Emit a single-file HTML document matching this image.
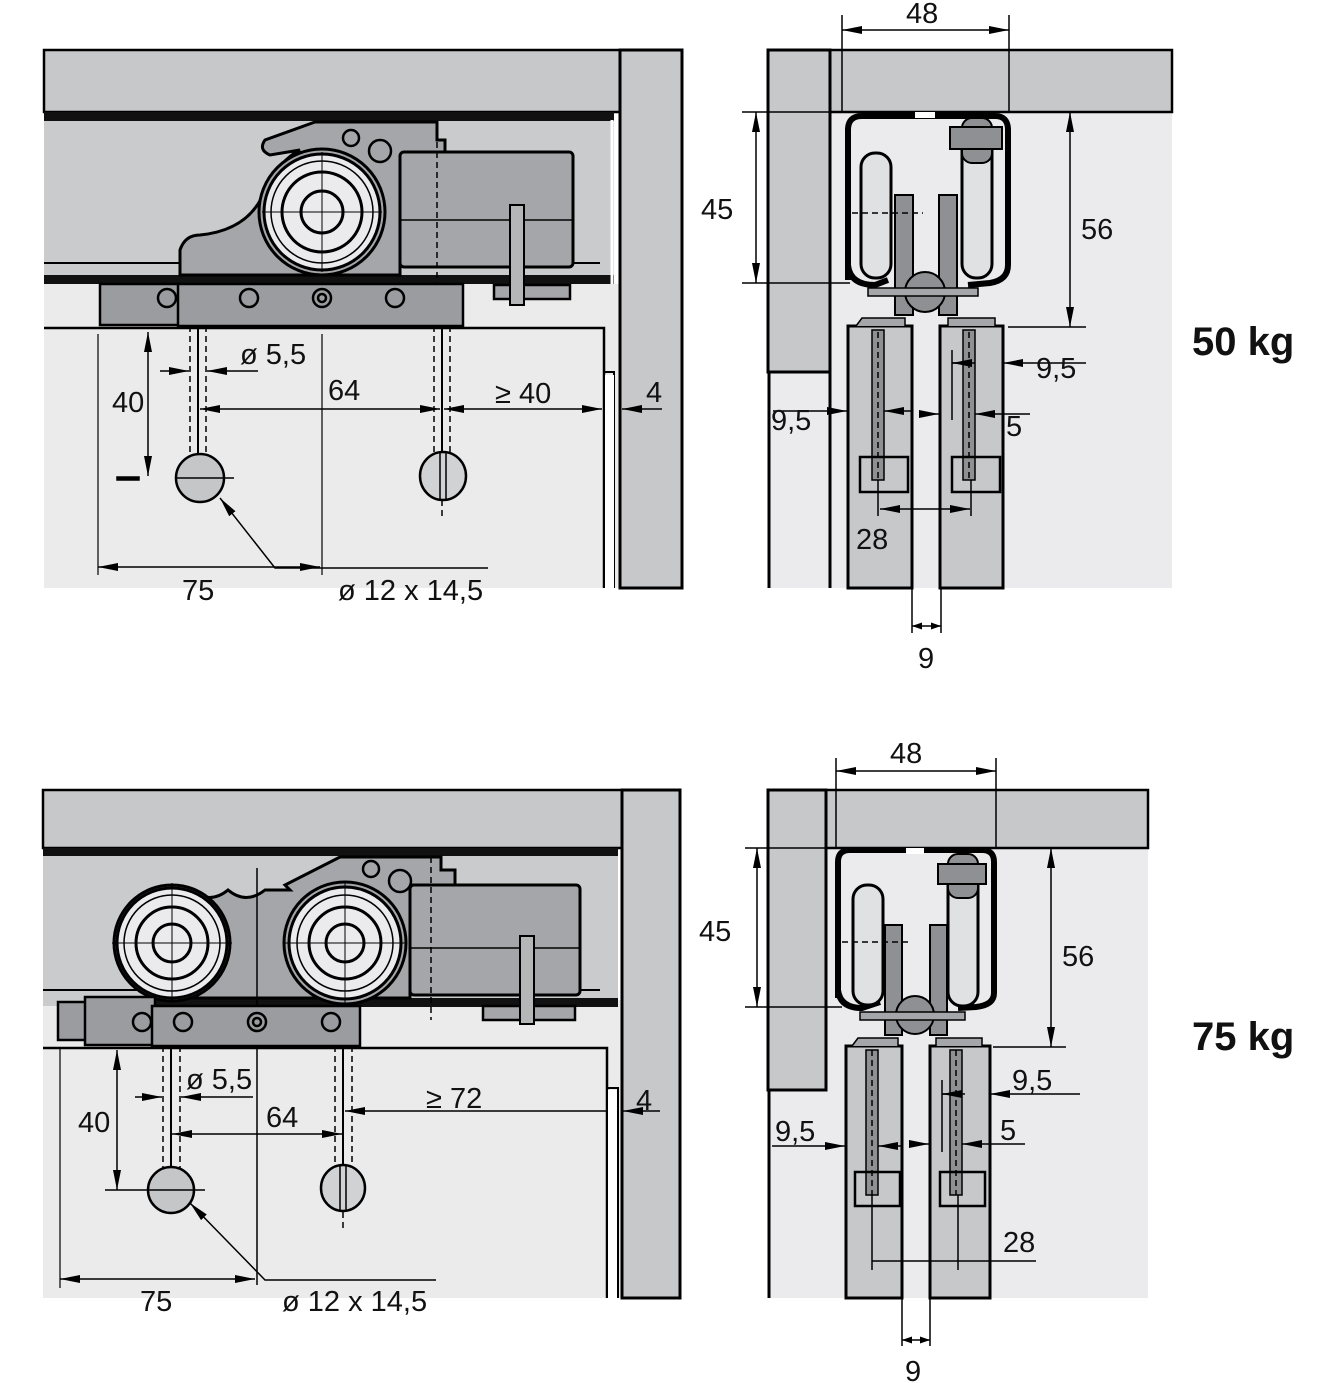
<!DOCTYPE html>
<html><head><meta charset="utf-8"><style>
html,body{margin:0;padding:0;background:#fff}
svg{display:block}
text{font-family:"Liberation Sans Narrow","Liberation Sans",sans-serif;font-size:29px;fill:#111}
.k{font-family:"Liberation Sans",sans-serif;font-weight:bold;font-size:40px}
</style></head><body>
<svg width="1321" height="1383" viewBox="0 0 1321 1383" xmlns="http://www.w3.org/2000/svg">
<defs>
<marker id="a" viewBox="0 0 10 10" refX="10" refY="5" markerWidth="10" markerHeight="10" markerUnits="userSpaceOnUse" orient="auto-start-reverse"><path d="M0,1.5 L10,5 L0,8.5z" fill="#000"/></marker>
<marker id="b" viewBox="0 0 20 10" refX="20" refY="5" markerWidth="20" markerHeight="10" markerUnits="userSpaceOnUse" orient="auto-start-reverse"><path d="M0,1 L20,5 L0,9z" fill="#000"/></marker>
</defs>
<g stroke="#000" stroke-width="1.5">
<!-- ================= TOP LEFT ================= -->
<rect x="44" y="284" width="576" height="304" fill="#ebebec" stroke="none"/>
<rect x="44" y="50" width="576" height="62" fill="#c6c8ca" stroke-width="2.5"/>
<rect x="620" y="50" width="62" height="538" fill="#c6c8ca" stroke-width="3"/>
<rect x="44" y="112" width="570" height="172" fill="#c9cbcd" stroke="none"/>
<rect x="44" y="112" width="570" height="9" fill="#111" stroke="none"/>
<rect x="44" y="275" width="570" height="9" fill="#111" stroke="none"/>
<line x1="44" y1="263" x2="600" y2="263" stroke-width="2"/>
<line x1="612" y1="120" x2="612" y2="284" stroke="#fff" stroke-width="3"/>
<path d="M44,328 H604 V588" fill="none" stroke-width="2.5"/>
<path d="M604,372 H614 V588" fill="none" stroke-width="2"/>
<rect x="605" y="375" width="9" height="213" fill="#fff" stroke="none"/>
<!-- carriage -->
<path d="M180,275 V250 Q185,235 200,235 Q250,230 265,190 Q280,160 300,150 L270,155 Q258,150 265,140 L315,122 H437 V140 H445 V160 H400 V275z" fill="#a4a6a9" stroke-width="3"/>
<rect x="400" y="152" width="173" height="115" fill="#a4a6a9" stroke-width="3" rx="4"/>
<line x1="400" y1="220" x2="573" y2="220"/>
<circle cx="351" cy="138" r="8" fill="#a4a6a9" stroke-width="2.5"/>
<circle cx="380" cy="151" r="11" fill="#a4a6a9" stroke-width="2.5"/>
<rect x="494" y="285" width="76" height="14" fill="#a4a6a9" stroke-width="2.5"/>
<rect x="510" y="205" width="14" height="100" fill="#b4b6b8" stroke-width="2"/>
<line x1="437" y1="122" x2="437" y2="290" stroke-dasharray="6,4"/>
<circle cx="322" cy="212" r="63" fill="#a4a6a9" stroke-width="3"/>
<circle cx="322" cy="212" r="58" fill="#ebebed" stroke-width="3"/>
<circle cx="322" cy="212" r="51" fill="none"/>
<circle cx="322" cy="212" r="40" fill="none" stroke-width="3"/>
<circle cx="322" cy="212" r="21" fill="none" stroke-width="3"/>
<path d="M310,212 H334 M322,200 V224 M262,212 H382 M322,152 V272" stroke-width="1"/>
<!-- bracket -->
<rect x="100" y="284" width="80" height="41" fill="#9a9c9f" stroke-width="2.5"/>
<rect x="178" y="284" width="285" height="42" fill="#9a9c9f" stroke-width="2.5"/>
<g fill="none" stroke-width="2.5"><circle cx="167" cy="298" r="9"/><circle cx="249" cy="298" r="9"/><circle cx="322" cy="298" r="9"/><circle cx="322" cy="298" r="4"/><circle cx="395" cy="298" r="9"/></g>
<!-- holes -->
<g fill="none" stroke-dasharray="6,4"><path d="M190,326 V455 M206,326 V455 M434,326 V455 M450,326 V455 M442,500 V520"/></g>
<line x1="198" y1="326" x2="198" y2="500" stroke-width="2"/>
<line x1="442" y1="326" x2="442" y2="500" stroke-width="2"/>
<ellipse cx="200" cy="478" rx="24" ry="24" fill="#c4c6c8" stroke-width="2.5"/>
<ellipse cx="443" cy="476" rx="23" ry="24" fill="#d0d2d4" stroke-width="2.5"/>
<line x1="440" y1="453" x2="440" y2="500"/><line x1="446" y1="453" x2="446" y2="500"/>
<line x1="176" y1="478" x2="234" y2="478"/>
<rect x="117" y="477" width="22" height="3" fill="#000"/>
<!-- dims -->
<line x1="98" y1="334" x2="98" y2="575" stroke-width="1.2"/>
<line x1="322" y1="334" x2="322" y2="575" stroke-width="1.2"/>
<line x1="98" y1="567" x2="320" y2="567" marker-start="url(#b)" marker-end="url(#b)"/>
<line x1="148" y1="332" x2="148" y2="476" marker-start="url(#b)" marker-end="url(#b)"/>
<line x1="160" y1="371" x2="189" y2="371" marker-end="url(#b)"/>
<line x1="258" y1="371" x2="207" y2="371" marker-end="url(#b)"/>
<line x1="200" y1="409" x2="440" y2="409" marker-start="url(#b)" marker-end="url(#b)"/>
<line x1="444" y1="409" x2="602" y2="409" marker-start="url(#b)" marker-end="url(#b)"/>
<line x1="662" y1="409" x2="622" y2="409" marker-end="url(#b)"/>
<path d="M488,568 H275 L220,498" fill="none" marker-end="url(#b)"/>
</g>
<text x="112" y="412">40</text>
<text x="240" y="364">ø 5,5</text>
<text x="328" y="400">64</text>
<text x="495" y="403">≥ 40</text>
<text x="646" y="402">4</text>
<text x="182" y="600">75</text>
<text x="338" y="600">ø 12 x 14,5</text>

<!-- ================= TOP RIGHT ================= -->
<g stroke="#000" stroke-width="1.5">
<rect x="768" y="112" width="404" height="476" fill="#ebebed" stroke="none"/>
<rect x="830" y="50" width="342" height="62" fill="#c6c8ca" stroke-width="2.5"/>
<rect x="768" y="50" width="62" height="322" fill="#c6c8ca" stroke-width="3"/>
<line x1="769" y1="372" x2="769" y2="588" stroke-width="3"/>
<line x1="830" y1="372" x2="830" y2="588" stroke-width="3"/>
<rect x="848" y="326" width="64" height="262" fill="#c6c8ca" stroke-width="3"/>
<rect x="940" y="326" width="63" height="262" fill="#c6c8ca" stroke-width="3"/>
<rect x="872" y="330" width="12" height="150" fill="#8e9093"/>
<rect x="963" y="330" width="12" height="150" fill="#8e9093"/>
<rect x="860" y="457" width="48" height="35" fill="none" stroke-width="2.5"/>
<rect x="952" y="457" width="48" height="35" fill="none" stroke-width="2.5"/>
<path d="M856,326 L862,318 H905 V326 M948,326 V318 H995 V326" fill="#a4a6a9"/>
<path d="M848,280 V130 Q848,116 862,116 H995 Q1008,116 1008,130 V265 Q1008,280 990,283 L968,285" fill="none" stroke-width="6"/>
<path d="M848,265 Q850,285 875,285 L888,280" fill="none" stroke-width="6"/>
<rect x="861" y="153" width="30" height="125" rx="14" fill="#e0e1e3" stroke-width="3"/>
<rect x="962" y="118" width="30" height="160" rx="14" fill="#e0e1e3" stroke-width="3"/>
<rect x="962" y="118" width="30" height="45" rx="10" fill="#8e9093" stroke-width="2"/>
<rect x="950" y="127" width="52" height="22" fill="#8e9093" stroke-width="2"/>
<rect x="895" y="195" width="18" height="120" fill="#8e9093" stroke-width="2"/>
<rect x="939" y="195" width="18" height="120" fill="#8e9093" stroke-width="2"/>
<circle cx="925" cy="292" r="20" fill="#8e9093" stroke-width="2"/>
<rect x="868" y="288" width="110" height="8" fill="#a4a6a9"/>
<rect x="915" y="112" width="20" height="6" fill="#fff" stroke="none"/>
<path d="M852,213 H923 M878,332 V480 M969,332 V480" stroke-dasharray="6,4"/>
<!-- dims -->
<line x1="842" y1="15" x2="842" y2="112"/><line x1="1009" y1="15" x2="1009" y2="112"/>
<line x1="842" y1="30" x2="1009" y2="30" marker-start="url(#b)" marker-end="url(#b)"/>
<line x1="742" y1="112" x2="842" y2="112"/><line x1="742" y1="283" x2="850" y2="283"/>
<line x1="756" y1="112" x2="756" y2="283" marker-start="url(#b)" marker-end="url(#b)"/>
<line x1="1008" y1="327" x2="1086" y2="327"/>
<line x1="1070" y1="112" x2="1070" y2="327" marker-start="url(#b)" marker-end="url(#b)"/>
<line x1="1086" y1="363" x2="1003" y2="363" marker-end="url(#b)"/>
<line x1="952" y1="363" x2="975" y2="363"/>
<line x1="952" y1="363" x2="970" y2="363" marker-start="url(#b)"/>
<line x1="773" y1="411" x2="847" y2="411" marker-end="url(#b)"/>
<line x1="912" y1="411" x2="884" y2="411" marker-end="url(#b)"/>
<line x1="930" y1="414" x2="939" y2="414" marker-end="url(#b)"/>
<line x1="1030" y1="414" x2="975" y2="414" marker-end="url(#b)"/>
<line x1="952" y1="350" x2="952" y2="420"/>
<line x1="878" y1="480" x2="878" y2="516"/><line x1="971" y1="480" x2="971" y2="516"/>
<line x1="880" y1="509" x2="970" y2="509" marker-start="url(#b)" marker-end="url(#b)"/>
<line x1="912" y1="588" x2="912" y2="633"/><line x1="941" y1="588" x2="941" y2="633"/>
<line x1="912" y1="626" x2="941" y2="626" marker-start="url(#a)" marker-end="url(#a)"/>
</g>
<text x="906" y="23">48</text>
<text x="701" y="219">45</text>
<text x="1081" y="239">56</text>
<text x="1036" y="378">9,5</text>
<text x="771" y="430">9,5</text>
<text x="1006" y="436">5</text>
<text x="856" y="549">28</text>
<text x="918" y="668">9</text>
<text class="k" x="1192" y="355">50 kg</text>

<!-- ================= BOTTOM LEFT ================= -->
<g stroke="#000" stroke-width="1.5">
<rect x="43" y="1000" width="579" height="298" fill="#ebebec" stroke="none"/>
<rect x="43" y="790" width="579" height="58" fill="#c6c8ca" stroke-width="2.5"/>
<rect x="622" y="790" width="58" height="508" fill="#c6c8ca" stroke-width="3"/>
<rect x="43" y="848" width="575" height="158" fill="#c9cbcd" stroke="none"/>
<rect x="43" y="848" width="575" height="8" fill="#111" stroke="none"/>
<rect x="112" y="998" width="506" height="9" fill="#111" stroke="none"/>
<line x1="43" y1="990" x2="600" y2="990" stroke-width="2"/>
<path d="M43,1048 H607 V1298" fill="none" stroke-width="2.5"/>
<path d="M607,1088 H618 V1298" fill="none" stroke-width="2"/>
<rect x="608" y="1090" width="9" height="208" fill="#fff" stroke="none"/>
<path d="M175,890 H190 Q210,905 228,890 Q246,905 265,890 L290,890 L285,885 L340,857 H441 V870 H455 V885 H410 V998 H175z" fill="#a4a6a9" stroke-width="3"/>
<rect x="410" y="885" width="170" height="110" fill="#a4a6a9" stroke-width="3" rx="4"/>
<line x1="410" y1="948" x2="580" y2="948"/>
<circle cx="371" cy="869" r="8" fill="#a4a6a9" stroke-width="2.5"/>
<circle cx="400" cy="881" r="11" fill="#a4a6a9" stroke-width="2.5"/>
<rect x="483" y="1006" width="92" height="14" fill="#a4a6a9" stroke-width="2.5"/>
<rect x="520" y="936" width="14" height="88" fill="#b4b6b8" stroke-width="2"/>
<line x1="431" y1="857" x2="431" y2="1020" stroke-dasharray="6,4"/>
<g>
<circle cx="172" cy="943" r="58" fill="#a4a6a9" stroke-width="3"/>
<circle cx="172" cy="943" r="55" fill="#ebebed" stroke-width="3"/>
<circle cx="172" cy="943" r="48" fill="none"/>
<circle cx="172" cy="943" r="36" fill="none" stroke-width="3"/>
<circle cx="172" cy="943" r="19" fill="none" stroke-width="3"/>
<path d="M160,943 H184 M172,931 V955 M112,943 H232 M172,883 V1003" stroke-width="1"/>
<circle cx="345" cy="943" r="61" fill="#a4a6a9" stroke-width="3"/>
<circle cx="345" cy="943" r="56" fill="#ebebed" stroke-width="3"/>
<circle cx="345" cy="943" r="48" fill="none"/>
<circle cx="345" cy="943" r="36" fill="none" stroke-width="3"/>
<circle cx="345" cy="943" r="19" fill="none" stroke-width="3"/>
<path d="M333,943 H357 M345,931 V955 M285,943 H405 M345,883 V1003" stroke-width="1"/>
</g>
<line x1="257" y1="868" x2="257" y2="1285" stroke-width="1.5"/>
<rect x="58" y="1002" width="30" height="38" fill="#9a9c9f" stroke-width="2.5"/>
<rect x="85" y="997" width="70" height="48" fill="#9a9c9f" stroke-width="2.5"/>
<rect x="152" y="1006" width="208" height="40" fill="#9a9c9f" stroke-width="2.5"/>
<g fill="none" stroke-width="2.5"><circle cx="142" cy="1022" r="9"/><circle cx="183" cy="1022" r="9"/><circle cx="257" cy="1022" r="9"/><circle cx="257" cy="1022" r="4"/><circle cx="331" cy="1022" r="9"/></g>
<g fill="none" stroke-dasharray="6,4"><path d="M163,1046 H163 V1168 M180,1046 V1168 M335,1046 V1168 M352,1046 V1168 M343,1212 V1230"/></g>
<line x1="171" y1="1046" x2="171" y2="1212" stroke-width="2"/>
<line x1="343" y1="1046" x2="343" y2="1212" stroke-width="2"/>
<circle cx="171" cy="1190" r="23" fill="#c4c6c8" stroke-width="2.5"/>
<ellipse cx="343" cy="1188" rx="22" ry="23" fill="#d0d2d4" stroke-width="2.5"/>
<line x1="340" y1="1166" x2="340" y2="1212"/><line x1="346" y1="1166" x2="346" y2="1212"/>
<line x1="105" y1="1190" x2="205" y2="1190"/>
<line x1="60" y1="1048" x2="60" y2="1288" stroke-width="1.2"/>
<line x1="60" y1="1279" x2="255" y2="1279" marker-start="url(#b)" marker-end="url(#b)"/>
<line x1="117" y1="1050" x2="117" y2="1190" marker-start="url(#b)" marker-end="url(#b)"/>
<line x1="135" y1="1097" x2="162" y2="1097" marker-end="url(#b)"/>
<line x1="253" y1="1097" x2="181" y2="1097" marker-end="url(#b)"/>
<line x1="172" y1="1134" x2="342" y2="1134" marker-start="url(#b)" marker-end="url(#b)"/>
<line x1="345" y1="1111" x2="606" y2="1111" marker-start="url(#b)"/>
<line x1="660" y1="1111" x2="623" y2="1111" marker-end="url(#b)"/>
<path d="M436,1280 H265 L190,1203" fill="none" marker-end="url(#b)"/>
</g>
<text x="78" y="1132">40</text>
<text x="186" y="1089">ø 5,5</text>
<text x="266" y="1127">64</text>
<text x="426" y="1108">≥ 72</text>
<text x="636" y="1110">4</text>
<text x="140" y="1311">75</text>
<text x="282" y="1311">ø 12 x 14,5</text>

<!-- ================= BOTTOM RIGHT ================= -->
<g stroke="#000" stroke-width="1.5">
<rect x="768" y="848" width="380" height="450" fill="#ebebed" stroke="none"/>
<rect x="826" y="790" width="322" height="58" fill="#c6c8ca" stroke-width="2.5"/>
<rect x="768" y="790" width="58" height="300" fill="#c6c8ca" stroke-width="3"/>
<line x1="769" y1="1090" x2="769" y2="1298" stroke-width="3"/>
<rect x="846" y="1046" width="56" height="252" fill="#c6c8ca" stroke-width="3"/>
<rect x="930" y="1046" width="60" height="252" fill="#c6c8ca" stroke-width="3"/>
<rect x="866" y="1050" width="12" height="145" fill="#8e9093"/>
<rect x="950" y="1050" width="12" height="145" fill="#8e9093"/>
<rect x="855" y="1172" width="45" height="34" fill="none" stroke-width="2.5"/>
<rect x="940" y="1172" width="45" height="34" fill="none" stroke-width="2.5"/>
<path d="M852,1046 L858,1038 H898 V1046 M936,1046 V1038 H982 V1046" fill="#a4a6a9"/>
<path d="M838,998 V862 Q838,850 850,850 H982 Q994,850 994,862 V993 Q994,1005 976,1007 L958,1008" fill="none" stroke-width="6"/>
<path d="M838,990 Q840,1008 862,1008 L880,1002" fill="none" stroke-width="6"/>
<rect x="853" y="885" width="30" height="120" rx="14" fill="#e0e1e3" stroke-width="3"/>
<rect x="948" y="854" width="30" height="152" rx="14" fill="#e0e1e3" stroke-width="3"/>
<rect x="948" y="854" width="30" height="44" rx="10" fill="#8e9093" stroke-width="2"/>
<rect x="938" y="864" width="48" height="20" fill="#8e9093" stroke-width="2"/>
<rect x="885" y="925" width="17" height="110" fill="#8e9093" stroke-width="2"/>
<rect x="930" y="925" width="17" height="110" fill="#8e9093" stroke-width="2"/>
<circle cx="915" cy="1015" r="19" fill="#8e9093" stroke-width="2"/>
<rect x="860" y="1012" width="105" height="8" fill="#a4a6a9"/>
<rect x="906" y="848" width="18" height="6" fill="#fff" stroke="none"/>
<path d="M842,942 H912 M872,1050 V1195 M956,1050 V1195" stroke-dasharray="6,4"/>
<line x1="836" y1="758" x2="836" y2="848"/><line x1="996" y1="758" x2="996" y2="848"/>
<line x1="836" y1="771" x2="996" y2="771" marker-start="url(#b)" marker-end="url(#b)"/>
<line x1="745" y1="848" x2="840" y2="848"/><line x1="745" y1="1007" x2="842" y2="1007"/>
<line x1="757" y1="848" x2="757" y2="1007" marker-start="url(#b)" marker-end="url(#b)"/>
<line x1="993" y1="1047" x2="1066" y2="1047"/>
<line x1="1051" y1="848" x2="1051" y2="1047" marker-start="url(#b)" marker-end="url(#b)"/>
<line x1="1080" y1="1094" x2="990" y2="1094" marker-end="url(#b)"/>
<line x1="942" y1="1094" x2="965" y2="1094"/>
<line x1="942" y1="1094" x2="960" y2="1094" marker-start="url(#b)"/>
<line x1="772" y1="1146" x2="845" y2="1146" marker-end="url(#b)"/>
<line x1="902" y1="1146" x2="878" y2="1146" marker-end="url(#b)"/>
<line x1="920" y1="1144" x2="929" y2="1144" marker-end="url(#b)"/>
<line x1="1025" y1="1144" x2="962" y2="1144" marker-end="url(#b)"/>
<line x1="942" y1="1080" x2="942" y2="1152"/>
<line x1="872" y1="1195" x2="872" y2="1270"/><line x1="958" y1="1195" x2="958" y2="1270"/>
<line x1="872" y1="1261" x2="1036" y2="1261"/>
<line x1="902" y1="1298" x2="902" y2="1346"/><line x1="930" y1="1298" x2="930" y2="1346"/>
<line x1="902" y1="1340" x2="930" y2="1340" marker-start="url(#a)" marker-end="url(#a)"/>
</g>
<text x="890" y="763">48</text>
<text x="699" y="941">45</text>
<text x="1062" y="966">56</text>
<text x="1012" y="1090">9,5</text>
<text x="775" y="1141">9,5</text>
<text x="1000" y="1140">5</text>
<text x="1003" y="1252">28</text>
<text x="905" y="1381">9</text>
<text class="k" x="1192" y="1050">75 kg</text>
</svg>
</body></html>
